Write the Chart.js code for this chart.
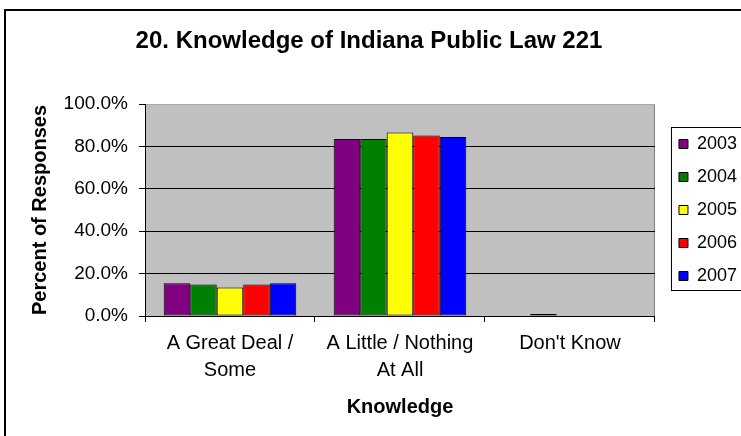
<!DOCTYPE html>
<html>
<head>
<meta charset="utf-8">
<script src="https://cdn.jsdelivr.net/npm/chart.js@4/dist/chart.umd.min.js"></script>
<style>
	html, body { margin: 0; padding: 0; background: #fff; overflow: hidden; }
	#wrap { position: relative; width: 741px; height: 436px; }
</style>
</head>
<body>
<div id="wrap"><canvas id="chart" width="741" height="436"></canvas></div>
<script>
	var categories = [["A Great Deal /", "Some"], ["A Little / Nothing", "At All"], "Don't Know"],
		years = ["2003", "2004", "2005", "2006", "2007"],
		values2003 = [15.5, 83.5, 0],
		values2004 = [14.8, 83.5, 1.0],
		values2005 = [13.4, 86.6, 0],
		values2006 = [14.8, 85.1, 0],
		values2007 = [15.5, 84.4, 0],
		colors = ["#800080", "#008000", "#FFFF00", "#FF0000", "#0000FF"],
		yTickValues = [0, 20, 40, 60, 80, 100];

	var FONT = "'Liberation Sans', Arial, sans-serif";
	Chart.defaults.font.family = FONT;
	Chart.defaults.color = "#000";

	var series = [values2003, values2004, values2005, values2006, values2007];

	// grey plot area + outer frame, like the Excel original
	var frame = {
		id: "frame",
		beforeDraw: function (chart) {
			var ctx = chart.ctx, a = chart.chartArea;
			ctx.save();
			ctx.fillStyle = "#fff";
			ctx.fillRect(0, 0, chart.width, chart.height);
			ctx.fillStyle = "#C0C0C0";
			ctx.fillRect(a.left, a.top, a.right - a.left, a.bottom - a.top);
			ctx.strokeStyle = "#808080";
			ctx.lineWidth = 1;
			ctx.strokeRect(a.left + 0.5, a.top + 0.5, a.right - a.left - 1, a.bottom - a.top);
			ctx.restore();
		},
		afterLayout: function (chart) {
			// push legend items a bit right of the plot, as in the source
			chart.legend.left += 9;
		},
		afterDraw: function (chart) {
			var ctx = chart.ctx, a = chart.chartArea,
				mid = (a.top + a.bottom) / 2;
			ctx.save();
			ctx.strokeStyle = "#000";
			ctx.lineWidth = 1;
			ctx.strokeRect(a.right + 16.5, mid - 82.5, 120, 163);
			ctx.lineWidth = 2;
			ctx.beginPath();
			ctx.moveTo(5, chart.height);
			ctx.lineTo(5, 10);
			ctx.lineTo(chart.width, 10);
			ctx.stroke();
			ctx.restore();
		}
	};

	new Chart(document.getElementById("chart"), {
		type: "bar",
		data: {
			labels: categories,
			datasets: years.map(function (year, i) {
				return {
					label: year,
					data: series[i],
					backgroundColor: colors[i],
					borderColor: "#000",
					borderWidth: 1,
					borderSkipped: false,
					categoryPercentage: 0.78,
					barPercentage: 1
				};
			})
		},
		options: {
			responsive: false,
			animation: false,
			devicePixelRatio: 1,
			layout: {padding: {left: 0, right: 3, top: 0, bottom: 0}},
			plugins: {
				tooltip: {enabled: false},
				title: {
					display: true,
					text: "20. Knowledge of Indiana Public Law 221",
					color: "#000",
					font: {size: 24, weight: "bold", family: FONT},
					padding: {top: 26.6, bottom: 48.6}
				},
				legend: {
					position: "right",
					fullSize: false,
					labels: {
						boxWidth: 9,
						boxHeight: 9,
						padding: 15,
						color: "#000",
						font: {size: 18, family: FONT}
					}
				}
			},
			scales: {
				x: {
					afterFit: function (scale) { scale.height = 120; },
					grid: {drawOnChartArea: false, color: "#000", tickLength: 6, offset: true},
					border: {color: "#000", width: 1},
					ticks: {
						color: "#000",
						padding: 8,
						maxRotation: 0,
						autoSkip: false,
						font: {size: 20, family: FONT, lineHeight: 1.35}
					},
					title: {
						display: true,
						text: "Knowledge",
						color: "#000",
						font: {size: 20, weight: "bold", family: FONT},
						padding: {top: 0, bottom: 17}
					}
				},
				y: {
					min: 0,
					max: 100,
					afterFit: function (scale) { scale.width = 145; },
					afterBuildTicks: function (scale) {
						scale.ticks = yTickValues.map(function (v) { return {value: v}; });
					},
					grid: {
						color: function (c) { return c.tick && c.tick.value === 100 ? "#A8A8A8" : "#000"; },
						tickColor: "#000",
						tickLength: 6
					},
					border: {color: "#000", width: 1},
					ticks: {
						color: "#000",
						padding: 11,
						font: {size: 19, family: FONT},
						callback: function (v) { return v.toFixed(1) + "%"; }
					},
					title: {
						display: true,
						text: "Percent of Responses",
						color: "#000",
						font: {size: 20, weight: "bold", family: FONT},
						padding: {top: 28, bottom: 0}
					}
				}
			}
		},
		plugins: [frame]
	});
</script>
</body>
</html>
